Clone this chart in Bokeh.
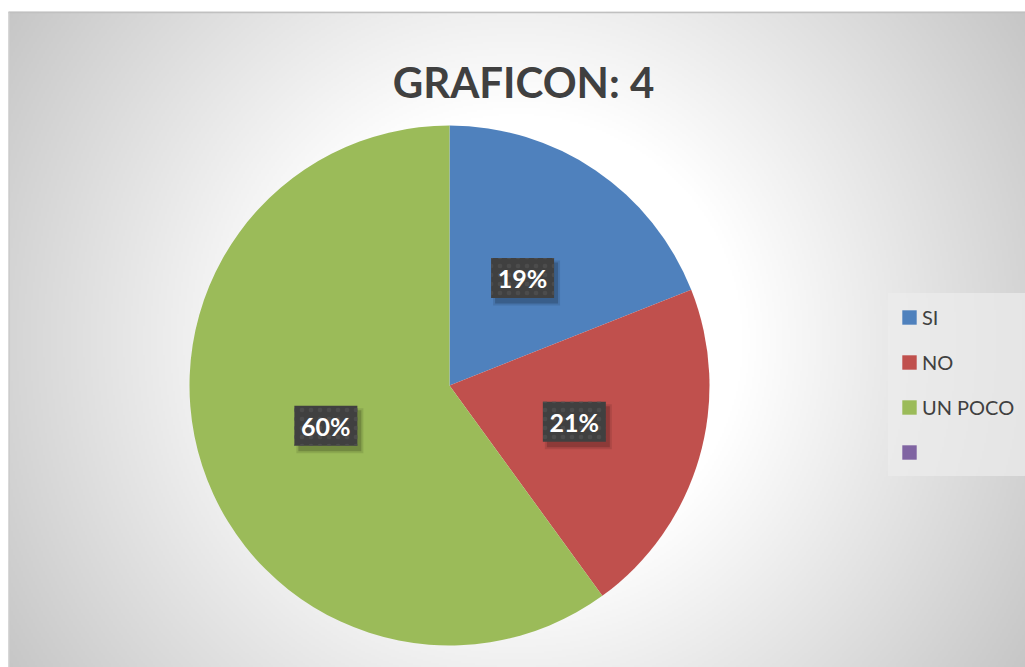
import numpy as np
from bokeh.plotting import figure
from bokeh.models import ColumnDataSource, Range1d, Legend, LegendItem, Label
from bokeh.core.properties import value
from bokeh.embed import file_html
from bokeh.resources import INLINE

# ---- data ----
categories = ["SI", "NO", "UN POCO", ""]
values = [19, 21, 60, 0]
colors = ["#4F81BD", "#C0504D", "#9BBB59", "#8064A2"]
title_text = "GRAFICON: 4"

W, H = 1025, 667
p = figure(width=W, height=H, x_range=Range1d(0, W), y_range=Range1d(0, H),
           output_backend="svg", toolbar_location=None, min_border=0)
p.axis.visible = False
p.grid.visible = False
p.outline_line_color = None
p.background_fill_color = "white"
p.border_fill_color = "white"

# ---- radial gradient background (chart area) ----
x0, bg_h = 8, 655
sx, sy = 2, 2
nx, ny = (W - x0) // sx + 1, bg_h // sy + 1
xs = x0 + (np.arange(nx) + 0.5) * sx
ys = (np.arange(ny) + 0.5) * sy
X, Y = np.meshgrid(xs, ys)
cx, cy = 516, 667 - 340
d = np.sqrt((X - cx) ** 2 + (Y - cy) ** 2)
c = np.clip(289 - 0.15 * d, 0, 255).astype(np.uint32)
img = (255 << 24) | (c << 16) | (c << 8) | c
p.image_rgba(image=[img.view(np.uint32)], x=x0, y=0, dw=nx * sx, dh=ny * sy)
p.line(x=[x0, W], y=[bg_h, bg_h], line_color="#c0c0c0", line_width=1.5)
p.line(x=[x0 + 0.75, x0 + 0.75], y=[0, bg_h], line_color="#cccccc", line_width=1.5)

# ---- pie ----
pcx, pcy, R = 449, 282, 260
total = sum(values)
fr = np.array(values) / total
cum = np.concatenate([[0], np.cumsum(fr)])
start = np.pi / 2 - cum[1:] * 2 * np.pi
end = np.pi / 2 - cum[:-1] * 2 * np.pi
radii = [R if v > 0 else 0 for v in values]
src = ColumnDataSource(dict(cat=categories, start=start, end=end, color=colors,
                            r=radii, x=[pcx] * 4, y=[pcy] * 4))
wr = p.wedge(x="x", y="y", radius="r", start_angle="start", end_angle="end",
             fill_color="color", line_color=None, source=src)

# ---- data labels ----
mid = (start + end) / 2
lab_r = R / 2
lx = [pcx + lab_r * np.cos(a) for a, v in zip(mid, values) if v > 0]
ly = [pcy + lab_r * np.sin(a) for a, v in zip(mid, values) if v > 0]
lt = [f"{v}%" for v in values if v > 0]
lsrc = ColumnDataSource(dict(x=lx, y=ly, t=lt))
shadow = ColumnDataSource(dict(x=[x + 4 for x in lx], y=[y - 5 for y in ly]))
p.rect(x="x", y="y", width=67, height=45, source=shadow, fill_color="black",
       fill_alpha=0.10, line_color=None)
p.rect(x="x", y="y", width=63, height=41, source=shadow, fill_color="black",
       fill_alpha=0.18, line_color=None)
p.rect(x="x", y="y", width=63, height=40, source=lsrc, fill_color="#404040",
       line_color=None, hatch_pattern="dot", hatch_color="#4c4c4c",
       hatch_scale=9, hatch_weight=3)
p.text(x="x", y="y", text="t", source=lsrc, text_color="white",
       text_font=value("Lato"), text_font_style="bold", text_font_size="25px",
       text_align="center", text_baseline="middle")

# ---- title ----
p.add_layout(Label(x=523, y=667 - 81, text=title_text, text_font="Lato",
                   text_font_style="bold", text_font_size="42px",
                   text_color="#404040", text_align="center",
                   text_baseline="alphabetic"))

# ---- legend ----
items = [LegendItem(label=value(c), renderers=[wr], index=i)
         for i, c in enumerate(categories)]
leg = Legend(items=items, location=(888, 191), margin=0, padding=12,
             spacing=21, glyph_width=18, glyph_height=18, label_height=24,
             label_standoff=4, label_text_font="Lato", label_text_font_size="20px",
             label_text_color="#404040", background_fill_color="#ececec",
             background_fill_alpha=0.7, border_line_alpha=0)
p.add_layout(leg)

open("out.html", "w").write(file_html(p, INLINE))
